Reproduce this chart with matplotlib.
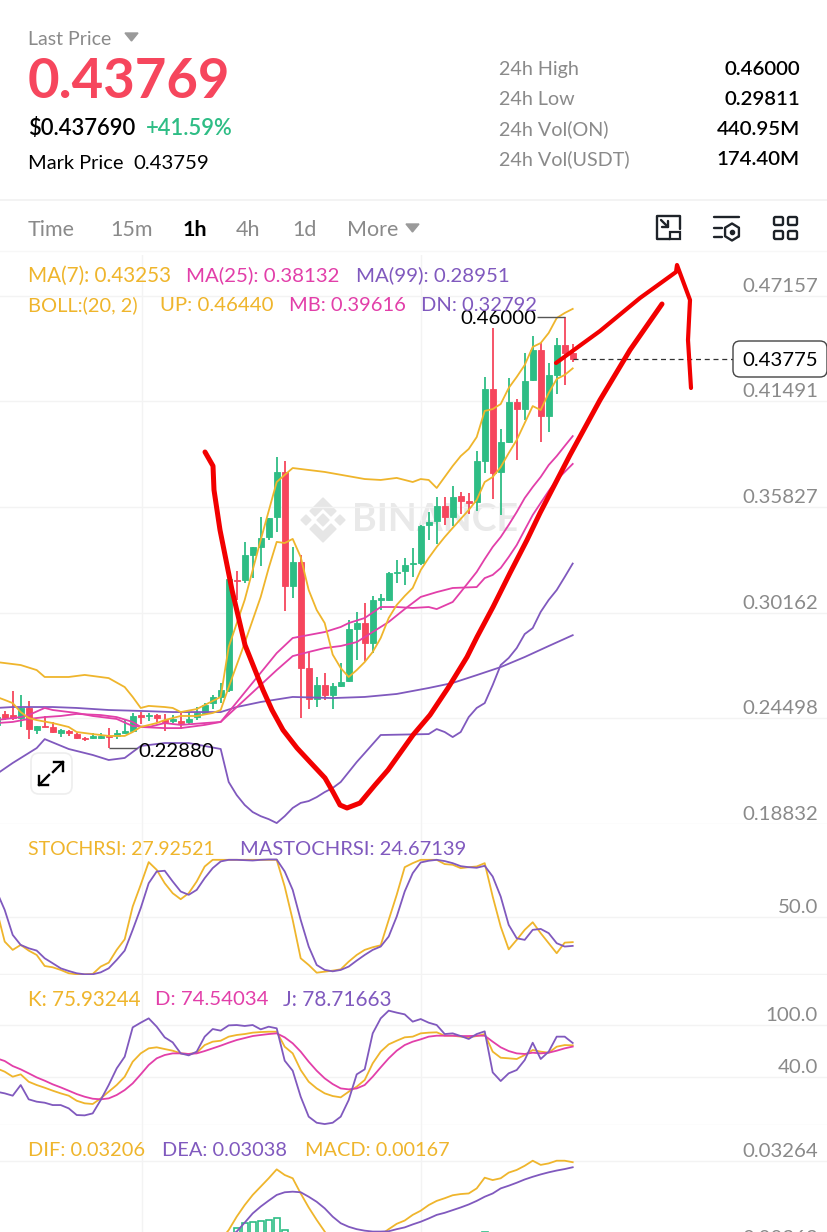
import numpy as np
import matplotlib
matplotlib.use("Agg")
import matplotlib.pyplot as plt
from matplotlib.patches import FancyBboxPatch, Polygon, Rectangle

plt.rcParams['font.family'] = ['Lato', 'DejaVu Sans']

W, H = 828, 1232

GREEN = '#2EBD85'
RED = '#F6465D'
YELLOW = '#EFB52C'
PINK = '#E23FA9'
PURPLE = '#8059BE'
GREY = '#8A8A8A'
GRID = '#F3F3F3'

# hourly candles
opens = [.2414,.2473,.2467,.2451,.2505,.2387,.2408,.2403,.2371,.2381,
         .2365,.2344,.2344,.2344,.2355,.2355,.2371,.2381,.2467,.2462,
         .2467,.2440,.2435,.2435,.2430,.2456,.2478,.2532,.2564,.2601,
         .3191,.3191,.3325,.3368,.3421,.3528,.3770,.3159,.3287,.2719,
         .2553,.2628,.2574,.2623,.2650,.2928,.2960,.2853,.3084,.3084,
         .3228,.3239,.3277,.3282,.3486,.3507,.3587,.3528,.3641,.3614,
         .3609,.3829,.4215,.3770,.3930,.4145,.4107,.4263,.4424,.4070,
         .4290,.4451,.4408]
highs = [.2467,.2489,.2596,.2574,.2542,.2408,.2462,.2430,.2392,.2387,
         .2371,.2349,.2371,.2371,.2398,.2387,.2440,.2478,.2483,.2478,
         .2473,.2473,.2467,.2478,.2478,.2510,.2532,.2574,.2639,.3196,
         .3239,.3395,.3368,.3528,.3523,.3850,.3829,.3368,.3325,.2805,
         .2670,.2692,.2639,.2746,.2977,.3019,.3068,.3105,.3116,.3234,
         .3298,.3309,.3362,.3486,.3555,.3636,.3636,.3695,.3663,.3657,
         .3882,.4279,.4542,.4000,.4274,.4161,.4407,.4498,.4461,.4354,
         .4488,.4600,.4456]
lows = [.2387,.2440,.2440,.2403,.2339,.2365,.2403,.2371,.2349,.2355,
        .2339,.2328,.2339,.2339,.2288,.2339,.2365,.2376,.2419,.2435,
        .2430,.2381,.2424,.2392,.2414,.2440,.2473,.2499,.2532,.2590,
        .3084,.3175,.3201,.3266,.3405,.3448,.3025,.3094,.2451,.2499,
        .2510,.2548,.2499,.2617,.2644,.2762,.2757,.2799,.3030,.3078,
        .3175,.3164,.3207,.3271,.3405,.3384,.3486,.3480,.3545,.3545,
        .3561,.3765,.3625,.3539,.3925,.3834,.4048,.4257,.3930,.3983,
        .4188,.4236,.4360]
closes = [.2456,.2451,.2451,.2505,.2392,.2408,.2403,.2376,.2387,.2371,
          .2344,.2339,.2355,.2355,.2349,.2371,.2381,.2462,.2456,.2467,
          .2451,.2430,.2446,.2424,.2446,.2478,.2521,.2564,.2601,.3196,
          .3185,.3325,.3368,.3416,.3523,.3770,.3159,.3287,.2719,.2553,
          .2628,.2574,.2623,.2644,.2928,.2960,.2853,.3084,.3094,.3228,
          .3234,.3271,.3282,.3480,.3502,.3587,.3528,.3636,.3614,.3604,
          .3829,.4215,.3764,.3930,.4145,.4107,.4257,.4424,.4070,.4290,
          .4451,.4408,.4377]

# overlays, read at the bends of each line
boll_up_x = [0,3,5,6,9,11,14,16,17,18,19,21,22,23,25,28,29,31,33,35,36,37,41,46,48,50,52,53,54,55,56,57,58,59,60,61,62,63,64,65,66,67,68,69,70,71,72]
boll_up = [.2751,.2735,.2708,.2671,.2671,.2682,.2665,.2617,.2564,.2505,.2516,.2510,.2505,.2483,.2499,.2564,.2832,.3084,.3405,.3716,.3754,.3791,.3770,.3732,.3727,.3738,.3716,.3732,.3727,.3684,.3743,.3802,.3855,.3893,.3957,.4097,.4107,.4134,.4220,.4279,.4343,.4440,.4461,.4515,.4595,.4622,.4644]
ma7_x = [0,1,2,3,4,5,7,9,10,12,14,16,17,18,20,21,23,25,27,28,29,31,33,34,35,36,37,38,39,40,41,42,43,44,45,46,47,48,49,50,51,52,53,54,55,56,57,58,59,60,61,62,63,64,65,66,67,68,69,70,71,72]
ma7 = [.2564,.2548,.2531,.2483,.2451,.2440,.2424,.2403,.2376,.2365,.2355,.2355,.2376,.2403,.2424,.2440,.2462,.2462,.2478,.2494,.2617,.2853,.3100,.3255,.3395,.3389,.3411,.3314,.3137,.3030,.2960,.2791,.2719,.2671,.2708,.2751,.2805,.2880,.2987,.3057,.3105,.3148,.3244,.3309,.3368,.3421,.3470,.3518,.3566,.3620,.3716,.3743,.3796,.3871,.3941,.4032,.4123,.4102,.4193,.4268,.4290,.4325]
boll_mb_x = [0,3,4,6,7,10,12,15,17,19,21,23,26,28,35,37,41,43,44,46,48,50,52,54,55,57,58,59,60,61,62,63,64,65,66,67,68,69,70,71,72]
boll_mb = [.2440,.2456,.2467,.2505,.2494,.2478,.2462,.2446,.2408,.2403,.2424,.2414,.2424,.2430,.2799,.2880,.2912,.2939,.2960,.2987,.3046,.3046,.3041,.3046,.3035,.3073,.3126,.3180,.3234,.3303,.3368,.3421,.3486,.3555,.3630,.3689,.3743,.3807,.3855,.3909,.3962]
ma25_x = [0,2,4,6,8,10,13,15,17,18,21,23,26,28,35,37,39,41,43,45,47,49,51,53,55,57,60,61,62,63,64,65,66,67,68,69,70,71,72]
ma25 = [.2424,.2430,.2446,.2456,.2462,.2473,.2467,.2456,.2430,.2403,.2397,.2397,.2414,.2430,.2708,.2783,.2805,.2826,.2837,.2858,.2912,.2966,.3035,.3100,.3126,.3148,.3153,.3201,.3218,.3255,.3314,.3378,.3459,.3539,.3604,.3668,.3727,.3770,.3813]
ma99_x = [0,2,7,10,14,18,22,28,30,33,37,42,46,50,54,57,60,63,66,69,72]
ma99 = [.2505,.2510,.2510,.2505,.2494,.2489,.2483,.2483,.2510,.2537,.2564,.2558,.2564,.2580,.2612,.2639,.2681,.2724,.2778,.2837,.2895]
boll_dn_x = [0,2,5,6,9,12,14,16,18,21,24,28,29,30,31,32,33,34,35,36,37,38,39,40,41,42,43,45,46,48,54,55,56,57,58,59,60,61,62,63,64,65,66,67,68,69,70,71,72]
boll_dn = [.2151,.2210,.2290,.2338,.2285,.2253,.2226,.2237,.2301,.2317,.2317,.2285,.2108,.2038,.1985,.1947,.1925,.1909,.1888,.1925,.1969,.1996,.2006,.2027,.2054,.2076,.2108,.2215,.2263,.2360,.2365,.2392,.2376,.2349,.2376,.2456,.2505,.2531,.2628,.2735,.2773,.2826,.2901,.2933,.3020,.3084,.3137,.3207,.3279]

stochrsi = [55.9,28.4,21.2,25.5,20.6,16.8,7.2,6.1,3.8,.9,0,0,.3,6.7,10.1,21.2,30.4,58.8,77.7,97.4,
            90.7,79.1,70.4,65.2,70.4,80.6,93.6,99.4,99.4,99.4,99.4,99.4,99.4,99.4,99.4,99.4,76.2,47.2,13.9,8.1,
            1.4,2.3,3.2,4.3,11,16.8,21.2,23.5,25.2,47.2,69,93,96.5,99.4,99.4,99.4,95.7,95.1,92.2,93,
            93.6,96.5,67.5,41.4,21.7,29.9,38.6,45.2,35.7,27,18.3,27.5,27.93]
mastochrsi = [71.9,55.9,34.2,25.5,22.6,20.6,13.9,9.6,5.2,2.9,.9,0,0,1.7,5.2,12.5,20.6,38.6,57.4,79.1,
              89.3,89.9,80.6,71.9,69,73.3,83.5,92.2,98,99.4,99.4,99.1,98.8,99.4,99.7,99.7,89.3,73.3,47.2,24.1,
              8.1,3.8,2.6,3.8,6.7,11.9,16.8,21.2,24.1,32.8,50.1,71.9,87.8,97.1,98.6,99.4,98.3,96.5,93.9,93,
              92.5,94.2,84.9,67.5,42.9,31.3,29.9,38.6,39.4,35.7,27,24.1,24.67]

kdj_k = [49.4,45.6,39.8,42.5,34.0,30.2,27.1,23.7,20.6,17.9,12.1,9.1,8.3,14.8,22.5,30.2,39.8,57.1,66.7,72.5,
         73.7,71.7,69.8,66.7,66.0,67.5,76.3,80.2,81.3,86.0,87.9,89.0,90.6,91.3,91.7,91.7,74.4,66.7,47.5,34.0,
         26.3,20.6,17.5,16.0,22.5,28.3,36.0,55.2,68.7,77.1,81.3,85.2,86.0,89.8,90.6,91.0,87.1,87.1,86.0,85.2,
         86.7,89.0,68.7,61.7,61.0,60.2,64.8,70.6,68.7,67.5,74.4,76.3,75.93]
kdj_d = [61.0,57.9,52.1,48.3,43.7,39.0,35.2,31.0,27.5,23.7,19.8,16.7,14.4,13.7,14.8,18.7,24.4,32.1,42.5,53.3,
         61.0,64.8,66.7,66.7,66.0,66.7,69.4,72.5,75.6,79.0,82.1,84.4,86.7,87.9,89.0,89.8,85.2,78.3,68.7,57.1,
         46.7,37.9,31.3,26.3,25.2,26.3,30.2,39.8,50.6,61.0,69.8,76.3,80.2,82.9,86.0,87.1,87.1,87.1,86.7,86.7,
         87.1,87.1,80.2,73.7,69.4,66.7,66.0,67.5,66.7,67.5,69.8,72.5,74.54]
kdj_j = [22.5,20.6,17.9,30.2,13.7,11.0,9.8,7.1,7.1,3.3,-4.4,-4.8,-2.5,12.9,30.2,49.4,62.9,96.7,102.1,107.1,
         97.5,85.2,79.4,66.7,64.4,68.7,86.0,94.8,92.9,99.0,99.4,98.3,99.4,94.4,97.5,95.6,58.3,46.7,16.7,-6.3,
         -13.3,-14.8,-13.3,-6.3,12.9,42.5,48.3,89.8,107.1,116.0,113.7,111.7,103.3,106.3,102.1,99.4,89.0,89.8,86.7,83.3,
         89.0,92.1,44.8,34.8,43.7,47.5,59.0,79.0,60.2,68.7,86.0,86.0,78.72]

macd_x = list(range(28, 73))
dif = [.0060,.0093,.0138,.0177,.0211,.0239,.0267,.0297,.0278,.0267,.0216,.0169,.0127,.0088,.0048,.0032,.0021,.0026,.0040,.0060,
       .0077,.0096,.0114,.0125,.0144,.0158,.0177,.0191,.0200,.0210,.0214,.0216,.0233,.0269,.0261,.0267,.0286,.0295,.0309,.0326,
       .0312,.0317,.0326,.0326,.0321]
dea = [.0043,.0071,.0088,.0118,.0149,.0172,.0192,.0211,.0220,.0222,.0220,.0205,.0188,.0166,.0138,.0116,.0104,.0096,.0091,.0088,
       .0088,.0089,.0096,.0102,.0112,.0121,.0132,.0144,.0151,.0160,.0169,.0179,.0191,.0205,.0216,.0233,.0242,.0252,.0263,.0272,
       .0280,.0287,.0293,.0298,.0304]
hist_x = [30, 31, 32, 33, 34, 35, 36, 61]
hist = [.0100, .0117, .0120, .0124, .0127, .0134, .0093, .0087]

price_ticks = [0.47157, 0.41491, 0.35827, 0.30162, 0.24498, 0.18832]
price_labels = ['0.47157', '0.41491', '0.35827', '0.30162', '0.24498', '0.18832']

# the hand drawn marks on top of the screenshot
red_stroke_x = [205, 213, 214, 220, 232, 245, 263, 272, 283, 297, 310, 325, 333, 340, 347, 360, 375, 388, 413, 430, 448, 467, 477, 493, 510, 527, 540, 570, 600, 630, 662]
red_stroke_y = [452, 466, 490, 530, 590, 645, 690, 710, 730, 748, 762, 778, 792, 805, 808, 803, 785, 770, 735, 715, 688, 657, 637, 607, 573, 540, 513, 455, 400, 350, 304]
red_arrow_x = [556, 600, 640, 676, 677, 690, 688, 691]
red_arrow_y = [363, 331, 298, 272, 265, 300, 340, 388]

top_rows = [('24h High', '0.46000', 68), ('24h Low', '0.29811', 98),
            ('24h Vol(ON)', '440.95M', 128), ('24h Vol(USDT)', '174.40M', 158)]
tabs = [('Time', 28), ('15m', 110), ('1h', 183), ('4h', 236), ('1d', 292), ('More', 347)]


def px(size):
    return size * 72 / 100


def idx(x):
    # pixel column of the screenshot to candle number
    return (x + 3.3) / 8


def panel(top, bottom, ylim):
    ax = fig.add_axes([0, 1 - bottom / H, 1, (bottom - top) / H], zorder=1)
    ax.patch.set_visible(False)
    for s in ax.spines.values():
        s.set_visible(False)
    ax.set_xlim(idx(0), idx(W))
    ax.set_ylim(*ylim)
    ax.set_xticks([idx(141.7), idx(421)])
    ax.tick_params(length=0, labelbottom=False, labelleft=False)
    ax.grid(True, color=GRID, lw=1)
    ax.set_axisbelow(True)
    return ax


def right_label(ax, text, value, size=20.4):
    ax.annotate(text, (1, value), xycoords=('axes fraction', 'data'), xytext=(-7.2, 6.8), textcoords='offset points',
                ha='right', va='center', color=GREY, fontsize=px(size))


fig = plt.figure(figsize=(W / 100, H / 100), dpi=100, facecolor='white')

back = fig.add_axes([0, 0, 1, 1], zorder=0)
back.set_xlim(0, W)
back.set_ylim(H, 0)
back.axis('off')

over = fig.add_axes([0, 0, 1, 1], zorder=3)
over.set_xlim(0, W)
over.set_ylim(H, 0)
over.axis('off')


def label(x, y, s, color='black', size=20.4, ha='left', **kw):
    over.text(x, y + 1.5, s, color=color, fontsize=px(size), ha=ha, va='center', **kw)


# watermark
back.text(352, 520, 'BINANCE', color='#E9E9E9', fontsize=27, fontweight='bold', va='center', ha='left')
wm = '#E6E6E6'
cx, cy = 323, 520
back.add_patch(Polygon([(cx - 6, cy), (cx, cy - 6), (cx + 6, cy), (cx, cy + 6)], color=wm))
back.add_patch(Polygon([(cx - 22, cy), (cx - 17, cy - 5), (cx - 12, cy), (cx - 17, cy + 5)], color=wm))
back.add_patch(Polygon([(cx + 22, cy), (cx + 17, cy - 5), (cx + 12, cy), (cx + 17, cy + 5)], color=wm))
back.add_patch(Polygon([(cx, cy - 22), (cx + 13, cy - 9), (cx + 8, cy - 4), (cx, cy - 12), (cx - 8, cy - 4), (cx - 13, cy - 9)], color=wm))
back.add_patch(Polygon([(cx, cy + 22), (cx + 13, cy + 9), (cx + 8, cy + 4), (cx, cy + 12), (cx - 8, cy + 4), (cx - 13, cy + 9)], color=wm))

# price panel
ax = panel(255, 824, (0.18830, 0.49328))
ax.set_yticks(price_ticks)
x = np.arange(len(opens))
o, h, l, c = map(np.array, (opens, highs, lows, closes))
colors = np.where(c >= o, GREEN, RED)
ax.vlines(x, l, h, colors=colors, lw=1.3, zorder=2)
ax.bar(x, np.abs(c - o), bottom=np.minimum(o, c), width=0.72, color=colors, linewidth=0.6, edgecolor=colors, zorder=2)
ax.plot(ma99_x, ma99, color=PURPLE, lw=1.3, zorder=3)
ax.plot(boll_dn_x, boll_dn, color=PURPLE, lw=1.3, zorder=3)
ax.plot(ma25_x, ma25, color=PINK, lw=1.3, zorder=3)
ax.plot(boll_mb_x, boll_mb, color=PINK, lw=1.3, zorder=3)
ax.plot(ma7_x, ma7, color=YELLOW, lw=1.3, zorder=4)
ax.plot(boll_up_x, boll_up, color=YELLOW, lw=1.3, zorder=4)
for t, s in zip(price_ticks, price_labels):
    right_label(ax, s, t)

# high / low markers and the last price line
ax.hlines(0.46, idx(537), 71, color='#555555', lw=1, zorder=5)
ax.hlines(0.2288, 14, idx(137), color='#555555', lw=1, zorder=5)
ax.hlines(0.43775, 72, idx(733), color='#333333', lw=0.9, linestyles=(0, (4, 3)), zorder=5)
ax.annotate('0.46000', (idx(536), 0.46), xytext=(0, -1), textcoords='offset points', ha='right', va='center', fontsize=px(20.4), zorder=6)
ax.annotate('0.22880', (idx(138), 0.2288), xytext=(0, -2.2), textcoords='offset points', va='center', fontsize=px(20.4), zorder=6)

# stoch rsi
ax2 = panel(824, 975, (-0.6, 130.5))
ax2.set_yticks([0, 50])
ax2.plot(stochrsi, color=YELLOW, lw=1.3)
ax2.plot(mastochrsi, color=PURPLE, lw=1.3)
right_label(ax2, '50.0', 50)

# kdj
ax3 = panel(975, 1125, (-15.9, 157.1))
ax3.set_yticks([-15.9, 40, 100])
ax3.plot(kdj_k, color=YELLOW, lw=1.3)
ax3.plot(kdj_d, color=PINK, lw=1.3)
ax3.plot(kdj_j, color=PURPLE, lw=1.3)
right_label(ax3, '100.0', 100)
right_label(ax3, '40.0', 40)

# macd, cut off by the bottom of the screenshot
ax4 = panel(1125, 1232, (0.00865, 0.0446))
ax4.set_yticks([0.03264])
ax4.bar(hist_x, hist, width=0.72, facecolor='white', edgecolor=GREEN, linewidth=1.2)
ax4.plot(macd_x, dif, color=YELLOW, lw=1.3)
ax4.plot(macd_x, dea, color=PURPLE, lw=1.3)
right_label(ax4, '0.03264', 0.03264)
label(818, 1237, '0.00363', GREY, ha='right')

# header
label(28, 38, 'Last Price', GREY, 19.5)
over.add_patch(Polygon([(125, 33), (138, 33), (131.5, 41)], color='#9A9A9A'))
label(28, 80, '0.43769', RED, 54.5, fontweight='bold')
label(28, 127, '$0.437690', 'black', 22, fontweight='semibold')
label(146, 127, '+41.59%', GREEN, 22, fontweight='semibold')
label(28, 162, 'Mark Price', 'black', 20)
label(133, 162, '0.43759', 'black', 20.4)
for name, val, y in top_rows:
    label(499, y, name, GREY, 19.8)
    label(800, y, val, 'black', 20.4, ha='right', fontweight='semibold')
over.plot([0, W], [200, 200], color='#F1F1F1', lw=1.2)
over.plot([0, W], [251, 251], color='#F7F7F7', lw=1)

for name, tx in tabs:
    if name == '1h':
        label(tx, 228, name, 'black', 21.5, fontweight='bold')
    else:
        label(tx, 228, name, GREY, 21.5)
over.add_patch(Polygon([(406, 224), (419, 224), (412.5, 232)], color='#9A9A9A'))

# toolbar icons
ink = dict(color='#1E2329', lw=1.7, solid_capstyle='round', solid_joinstyle='round')
over.plot([670, 657, 657, 680, 680], [239, 239, 216, 216, 229], **ink)
over.add_patch(Rectangle((670, 232), 10, 7, fill=False, edgecolor='#1E2329', lw=1.6))
over.plot([661, 668], [220, 227], **ink)
over.plot([668, 668, 662], [221, 227, 227], **ink)
over.plot([714, 739], [217, 217], **ink)
over.plot([714, 722], [228, 228], **ink)
over.plot([714, 722], [237, 237], **ink)
a = np.deg2rad(np.arange(30, 391, 60))
over.plot(732 + 8 * np.cos(a), 232 + 8.5 * np.sin(a), **ink)
over.plot([732], [232], 'o', color='#1E2329', ms=3)
for bx in (773, 787):
    for by in (216, 230):
        over.add_patch(FancyBboxPatch((bx + 1, by + 1), 9, 8, boxstyle='round,pad=0,rounding_size=1.5',
                                      fill=False, edgecolor='#1E2329', lw=1.7))

# legend rows
label(28, 274, 'MA(7): 0.43253', YELLOW, 20.6)
label(186, 274, 'MA(25): 0.38132', PINK, 20.4)
label(356, 274, 'MA(99): 0.28951', PURPLE, 20.4)
label(28, 304, 'BOLL:(20, 2)', YELLOW, 20)
label(160, 304, 'UP: 0.46440', YELLOW, 20.4)
label(289, 304, 'MB: 0.39616', PINK, 20.2)
label(421, 304, 'DN: 0.32792', PURPLE, 20.2)
label(28, 848, 'STOCHRSI: 27.92521', YELLOW, 19.5)
label(240, 848, 'MASTOCHRSI: 24.67139', PURPLE, 20.1)
label(28, 998, 'K: 75.93244', YELLOW, 20.6)
label(155, 998, 'D: 74.54034', PINK, 20.4)
label(283, 998, 'J: 78.71663', PURPLE, 20.8)
label(28, 1149, 'DIF: 0.03206', YELLOW, 20)
label(162, 1149, 'DEA: 0.03038', PURPLE, 20)
label(305, 1149, 'MACD: 0.00167', YELLOW, 19.9)

# last price tag
over.add_patch(FancyBboxPatch((733, 341), 94, 36, boxstyle='round,pad=0,rounding_size=7',
                              facecolor='white', edgecolor='#444444', lw=1))
label(780, 358.5, '0.43775', 'black', 20.4, ha='center')

# expand button
over.add_patch(FancyBboxPatch((31, 753), 41, 41, boxstyle='round,pad=0,rounding_size=8',
                              facecolor='white', edgecolor='#EEEEEE', lw=1.2))
over.plot([39, 49], [785, 775], color='black', lw=1.7)
over.plot([39, 39, 48], [776, 785, 785], color='black', lw=1.7)
over.plot([53, 63], [772, 762], color='black', lw=1.7)
over.plot([54, 63, 63], [762, 762, 771], color='black', lw=1.7)

# red marker strokes
over.plot(red_stroke_x, red_stroke_y, color='#F20000', lw=3.6, solid_capstyle='round', solid_joinstyle='round')
over.plot(red_arrow_x, red_arrow_y, color='#F20000', lw=3.0, solid_capstyle='round', solid_joinstyle='round')

fig.savefig('out.png', dpi=100, facecolor='white')
